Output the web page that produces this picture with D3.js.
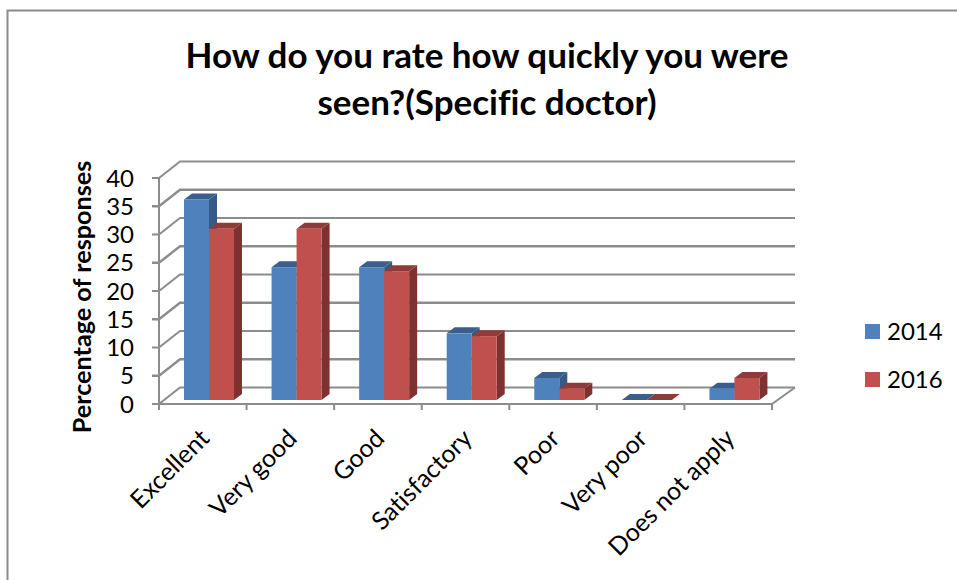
<!DOCTYPE html>
<html><head><meta charset="utf-8">
<script src="https://cdn.jsdelivr.net/npm/d3@7/dist/d3.min.js"></script>
<style>html,body{margin:0;padding:0;background:#fff}svg{display:block}text{font-family:Lato,Carlito,"Open Sans",sans-serif;fill:#000;font-variant-ligatures:none}</style>
</head><body><svg id="c" width="957" height="580"></svg>
<script>
const categories=["Excellent","Very good","Good","Satisfactory","Poor","Very poor","Does not apply"];
const seriesNames=["2014","2016"];
const values2014=[35.5,23.5,23.5,11.8,3.9,0,2];
const values2016=[30.3,30.3,22.8,11.3,2,0,3.9];
const yTicks=[0,5,10,15,20,25,30,35,40];
const titleLines=["How do you rate how quickly you were","seen?(Specific doctor)"];
const yLabel="Percentage of responses";
const colors={"2014":["#4f81bd","#3a5f8c","#355a85"],"2016":["#c0504d","#8f3b39","#7d3231"]};

const svg=d3.select("#c");
const gridC="#8c8c8c";
svg.append("path").attr("d","M7.5,580V10.5H957").attr("fill","none").attr("stroke",gridC).attr("stroke-width",2);

const x=d3.scaleBand().domain(categories).range([159,772]);
const y=d3.scaleLinear().domain([0,40]).range([404,178]);
const wallDx=21,wallDy=-16.5,barDx=8,barDy=-6;
const baseY=400;
const h=v=>y(0)-y(v);

const g=svg.append("g");
yTicks.forEach((t,i)=>{
  const yy=y(t);
  g.append("path").attr("d",`M152,${yy}H159L${159+wallDx},${yy+wallDy}H795`)
    .attr("fill","none").attr("stroke",gridC).attr("stroke-width",i%2?2.4:2);
});
g.append("path").attr("d",`M772,${y(0)}L795,${y(0)+wallDy}`).attr("fill","none").attr("stroke",gridC).attr("stroke-width",2);
g.append("line").attr("x1",159).attr("x2",159).attr("y1",y(40)).attr("y2",y(0)+6).attr("stroke",gridC).attr("stroke-width",2);
g.append("line").attr("x1",159).attr("x2",772).attr("y1",y(0)).attr("y2",y(0)).attr("stroke",gridC).attr("stroke-width",2);
categories.forEach((c,i)=>{
  const xx=x(c)+x.bandwidth();
  g.append("line").attr("x1",xx).attr("x2",xx).attr("y1",y(0)).attr("y2",y(0)+6).attr("stroke",gridC).attr("stroke-width",2);
});

const barW=25, barOff=25;
const series=[values2014,values2016];
categories.forEach((c,i)=>{
  seriesNames.forEach((s,j)=>{
    const v=series[j][i];
    const x0=x(c)+barOff+j*barW, x1=x0+barW, top=baseY-h(v);
    const b=svg.append("g");
    b.append("path").attr("d",`M${x1},${baseY}L${x1+barDx},${baseY+barDy}V${top+barDy}L${x1},${top}Z`).attr("fill",colors[s][2]);
    b.append("path").attr("d",`M${x0},${top}L${x0+barDx},${top+barDy}H${x1+barDx}L${x1},${top}Z`).attr("fill",colors[s][1]);
    if(v>0) b.append("rect").attr("x",x0).attr("y",top).attr("width",barW).attr("height",h(v)).attr("fill",colors[s][0]);
  });
});

yTicks.forEach(t=>{
  svg.append("text").attr("x",134).attr("y",y(t)+8.5).attr("text-anchor","end").attr("font-size",24).text(t);
});
svg.append("text").attr("transform","translate(91,297) rotate(-90)").attr("text-anchor","middle")
  .attr("font-size",25.2).attr("font-weight",700).text(yLabel);

categories.forEach(c=>{
  const cx=x(c)+x.bandwidth()/2;
  svg.append("text").attr("transform",`translate(${cx+8},${440}) rotate(-45)`).attr("text-anchor","end")
    .attr("font-size",25).text(c);
});

titleLines.forEach((l,i)=>{
  svg.append("text").attr("x",487).attr("y",68+i*47).attr("text-anchor","middle")
    .attr("font-size",35).attr("font-weight",700).text(l);
});

seriesNames.forEach((s,i)=>{
  const ly=324+i*48;
  svg.append("rect").attr("x",865).attr("y",ly).attr("width",15).attr("height",15).attr("fill",colors[s][0]);
  svg.append("text").attr("x",887).attr("y",ly+16).attr("font-size",24).text(s);
});
</script></body></html>
